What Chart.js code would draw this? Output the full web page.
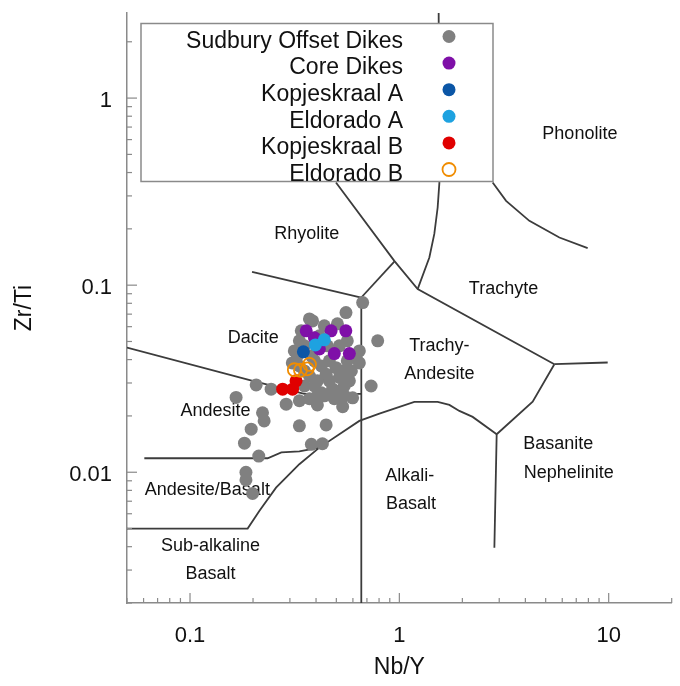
<!DOCTYPE html>
<html>
<head>
<meta charset="utf-8">
<script src="https://cdn.jsdelivr.net/npm/chart.js@4.4.1/dist/chart.umd.min.js"></script>
<style>
  html, body { margin: 0; padding: 0; background: #fff; }
  #wrap { position: relative; width: 680px; height: 686px; }
</style>
</head>
<body>
<div id="wrap"><canvas id="chart"></canvas></div>
<script>
// --- samples: Nb/Y on x, Zr/Ti on y ---
const offsetNbY = [0.668, 0.556, 0.385, 0.788, 0.733, 0.598, 0.536, 0.406, 0.447, 0.333, 0.380, 0.429,
  0.207, 0.244, 0.166, 0.222, 0.226, 0.196, 0.182, 0.213, 0.185, 0.185, 0.199, 0.288, 0.333, 0.489,
  0.372, 0.506, 0.438, 0.333, 0.308, 0.326, 0.621, 0.644, 0.517, 0.447, 0.517, 0.498, 0.479, 0.406,
  0.372, 0.546, 0.590, 0.424, 0.352, 0.393, 0.463, 0.564, 0.453, 0.340, 0.546, 0.372, 0.406, 0.352, 0.415,
  0.352, 0.380, 0.424, 0.546, 0.463, 0.517, 0.438, 0.393, 0.333, 0.564, 0.644, 0.577, 0.315];
const offsetZrTi = [0.0807, 0.0714, 0.0644, 0.0504, 0.0289, 0.0250, 0.0224, 0.0229, 0.0179, 0.0177, 0.0141, 0.0142,
  0.0293, 0.0278, 0.0251, 0.0208, 0.0188, 0.0170, 0.0143, 0.0122, 0.0100, 0.0091, 0.0077, 0.0231, 0.0241, 0.0247,
  0.0660, 0.0621, 0.0606, 0.0504, 0.0384, 0.0419, 0.0410, 0.0384, 0.0474, 0.0334, 0.0321, 0.0362, 0.0279, 0.0308,
  0.0327, 0.0289, 0.0348, 0.0266, 0.0289, 0.0394, 0.0394, 0.0394, 0.0474, 0.0570, 0.0256, 0.0247, 0.0256, 0.0348, 0.0536,
  0.0474, 0.0419, 0.0370, 0.0348, 0.0308, 0.0272, 0.0256, 0.0289, 0.0370, 0.0504, 0.0445, 0.0308, 0.0445];

const coreNbY = [0.359, 0.472, 0.555, 0.415, 0.489, 0.577, 0.393];
const coreZrTi = [0.0570, 0.0570, 0.0570, 0.0456, 0.0431, 0.0431, 0.0523];

const kopjesA_NbY = [0.348];
const kopjesA_ZrTi = [0.0440];

const eldoradoA_NbY = [0.397, 0.438];
const eldoradoA_ZrTi = [0.0479, 0.0510];

const kopjesB_NbY = [0.277, 0.309, 0.321];
const kopjesB_ZrTi = [0.0278, 0.0278, 0.0308];

const eldoradoB_NbY = [0.315, 0.337, 0.363, 0.372];
const eldoradoB_ZrTi = [0.0353, 0.0351, 0.0357, 0.0377];

// --- field boundaries (Nb/Y, Zr/Ti) ---
const trachyteTopX = [1.541, 1.553, 1.524, 1.469, 1.391, 1.223];
const trachyteTopY = [2.85, 0.352, 0.260, 0.188, 0.1405, 0.0952];
const rhyoTrachyX = [0.498, 0.946, 1.223, 5.502];
const rhyoTrachyY = [0.3537, 0.1349, 0.0952, 0.0378];
const phonoRightX = [5.502, 9.89];
const phonoRightY = [0.0378, 0.0386];
const basaniteX = [5.502, 4.334, 2.917, 2.844];
const basaniteY = [0.0378, 0.02385, 0.01596, 0.003953];
const alkaliTopX = [0.05, 0.1885, 0.2143, 0.2576, 0.3328, 0.4147, 0.5168, 0.644, 0.8028, 1.1793, 1.524, 1.734, 1.935, 2.240, 2.917];
const alkaliTopY = [0.005, 0.005, 0.006209, 0.008272, 0.01104, 0.01354, 0.01596, 0.01881, 0.02058, 0.02376, 0.02376, 0.02291, 0.02127, 0.01976, 0.01596];
const andBasX = [0.0605, 0.2348, 0.2731, 0.3328, 0.4147];
const andBasY = [0.01188, 0.01188, 0.01276, 0.01292, 0.01354];
const daciteLowX = [0.05, 0.1991, 0.3517, 0.658];
const daciteLowY = [0.04637, 0.03077, 0.02623, 0.02623];
const rhyoDaciteX = [0.1978, 0.658];
const rhyoDaciteY = [0.1178, 0.0859];
const junctionX = [0.658, 0.946];
const junctionY = [0.0859, 0.1337];
const alkaliLeftX = [0.658, 0.658];
const alkaliLeftY = [0.0859, 0.002];
const phonoLeftX = [2.791, 3.235, 4.179, 5.814, 7.936];
const phonoLeftY = [0.3537, 0.2823, 0.2208, 0.1797, 0.1577];

// field names, anchored at (Nb/Y, Zr/Ti)
const fieldNames = ["Phonolite", "Rhyolite", "Trachyte", "Dacite", "Trachy-", "Andesite", "Andesite",
  "Andesite/Basalt", "Sub-alkaline", "Basalt", "Alkali-", "Basalt", "Basanite", "Nephelinite"];
const fieldNbY = [7.285, 0.3614, 3.146, 0.2006, 1.553, 1.553, 0.1325, 0.121, 0.1254, 0.1254, 1.122, 1.137, 5.737, 6.441];
const fieldZrTi = [0.642, 0.188, 0.0952, 0.0521, 0.0474, 0.0334, 0.02127, 0.00801, 0.004035, 0.002848, 0.00955, 0.006745, 0.01411, 0.00988];

const xLabels = [0.1, 1, 10];
const yLabels = [0.01, 0.1, 1];

const FONT = "'Liberation Sans', Arial, sans-serif";
const axisGray = "#8a8a8a";
const lineColor = "#3c3c3c";

const zip = (xs, ys) => xs.map((x, i) => ({ x: x, y: ys[i] }));

const sample = (label, xs, ys, color, order, hollow) => ({
  label: label,
  data: zip(xs, ys),
  order: order,
  pointRadius: 6.5,
  pointBackgroundColor: hollow ? "rgba(0,0,0,0)" : color,
  pointBorderColor: color,
  pointBorderWidth: hollow ? 1.8 : 0,
  isSample: true,
});

const boundary = (xs, ys) => ({
  data: zip(xs, ys),
  showLine: true,
  pointRadius: 0,
  borderColor: lineColor,
  borderWidth: 1.8,
  order: 20,
});

const datasets = [
  sample("Sudbury Offset Dikes", offsetNbY, offsetZrTi, "#808080", 6),
  sample("Core Dikes", coreNbY, coreZrTi, "#7f10a8", 5),
  sample("Kopjeskraal A", kopjesA_NbY, kopjesA_ZrTi, "#0b56a6", 4),
  sample("Eldorado A", eldoradoA_NbY, eldoradoA_ZrTi, "#1ea2e0", 3),
  sample("Kopjeskraal B", kopjesB_NbY, kopjesB_ZrTi, "#e00000", 2),
  sample("Eldorado B", eldoradoB_NbY, eldoradoB_ZrTi, "#f08c00", 1, true),
  boundary(trachyteTopX, trachyteTopY),
  boundary(rhyoTrachyX, rhyoTrachyY),
  boundary(phonoRightX, phonoRightY),
  boundary(basaniteX, basaniteY),
  boundary(alkaliTopX, alkaliTopY),
  boundary(andBasX, andBasY),
  boundary(daciteLowX, daciteLowY),
  boundary(rhyoDaciteX, rhyoDaciteY),
  boundary(junctionX, junctionY),
  boundary(alkaliLeftX, alkaliLeftY),
  boundary(phonoLeftX, phonoLeftY),
];

const isWhole = (v) => {
  const m = v / Math.pow(10, Math.floor(Math.log10(v) + 1e-9));
  return Math.abs(m - Math.round(m)) < 1e-6 ? Math.round(m) : 0;
};
const inList = (v, list) => list.some((l) => Math.abs(v / l - 1) < 1e-6);

// field names sit under the points
const fieldText = {
  id: "fieldText",
  beforeDatasetsDraw(chart) {
    const { ctx, scales } = chart;
    ctx.save();
    ctx.font = "18px " + FONT;
    ctx.fillStyle = "#111";
    ctx.textAlign = "center";
    ctx.textBaseline = "middle";
    fieldNames.forEach((name, i) => {
      ctx.fillText(name, scales.x.getPixelForValue(fieldNbY[i]), scales.y.getPixelForValue(fieldZrTi[i]));
    });
    ctx.restore();
  },
};

// boxed legend inside the plot, label then marker
const boxLegend = {
  id: "boxLegend",
  afterDatasetsDraw(chart) {
    const { ctx, chartArea } = chart;
    const left = chartArea.left + 14, top = chartArea.top + 10.5;
    const w = 352, h = 158;
    ctx.save();
    ctx.fillStyle = "#fff";
    ctx.fillRect(left, top, w, h);
    ctx.strokeStyle = axisGray;
    ctx.lineWidth = 1.5;
    ctx.strokeRect(left, top, w, h);
    ctx.font = "23px " + FONT;
    ctx.fillStyle = "#111";
    ctx.textAlign = "right";
    ctx.textBaseline = "middle";
    chart.data.datasets.filter((d) => d.isSample).forEach((d, i) => {
      const cy = top + 13 + i * 26.6;
      ctx.fillText(d.label, left + 262, cy + 5);
      ctx.beginPath();
      ctx.arc(left + 308, cy, 6.5, 0, Math.PI * 2);
      ctx.fillStyle = d.pointBackgroundColor;
      ctx.fill();
      if (d.pointBorderWidth) {
        ctx.lineWidth = d.pointBorderWidth;
        ctx.strokeStyle = d.pointBorderColor;
        ctx.stroke();
      }
      ctx.fillStyle = "#111";
    });
    ctx.restore();
  },
};

// tick marks pointing into the plot
const insideTicks = {
  id: "insideTicks",
  afterDraw(chart) {
    const { ctx, scales } = chart;
    ctx.save();
    ctx.strokeStyle = axisGray;
    ctx.lineWidth = 1.2;
    scales.x.ticks.forEach((t) => {
      const m = isWhole(t.value);
      if (!m) return;
      const px = scales.x.getPixelForValue(t.value);
      ctx.beginPath();
      ctx.moveTo(px, scales.x.top);
      ctx.lineTo(px, scales.x.top - (m === 1 ? 10 : 5));
      ctx.stroke();
    });
    scales.y.ticks.forEach((t) => {
      const m = isWhole(t.value);
      if (!m) return;
      const py = scales.y.getPixelForValue(t.value);
      ctx.beginPath();
      ctx.moveTo(scales.y.right, py);
      ctx.lineTo(scales.y.right + (m === 1 ? 10 : 5), py);
      ctx.stroke();
    });
    ctx.restore();
  },
};

new Chart(document.getElementById("chart"), {
  type: "scatter",
  data: { datasets: datasets },
  plugins: [fieldText, boxLegend, insideTicks],
  options: {
    responsive: true,
    maintainAspectRatio: false,
    animation: false,
    events: [],
    layout: { padding: { top: 13, right: 8, left: 0, bottom: 0 } },
    plugins: { legend: { display: false }, tooltip: { enabled: false } },
    scales: {
      x: {
        type: "logarithmic",
        min: 0.05,
        max: 20,
        grid: { drawOnChartArea: false, drawTicks: false },
        border: { color: axisGray, width: 1.5 },
        ticks: {
          autoSkip: false,
          maxRotation: 0,
          padding: 20,
          color: "#111",
          font: { family: FONT, size: 22 },
          callback: (v) => (inList(v, xLabels) ? String(v) : ""),
        },
        title: { display: true, text: "Nb/Y", color: "#111", font: { family: FONT, size: 23 }, padding: { bottom: 5 } },
        afterFit: (scale) => {
          scale.height = 83;
          scale.paddingLeft = 0;
          scale.paddingRight = 0;
        },
      },
      y: {
        type: "logarithmic",
        min: 0.002,
        max: 2.85,
        grid: { drawOnChartArea: false, drawTicks: false },
        border: { color: axisGray, width: 1.5 },
        ticks: {
          autoSkip: false,
          padding: 15,
          labelOffset: 3,
          color: "#111",
          font: { family: FONT, size: 22 },
          callback: (v) => (inList(v, yLabels) ? String(v) : ""),
        },
        title: { display: true, text: "Zr/Ti", color: "#111", font: { family: FONT, size: 23 }, padding: { top: 11 } },
        afterFit: (scale) => {
          scale.width = 127;
          scale.paddingTop = 0;
          scale.paddingBottom = 0;
        },
      },
    },
  },
});
</script>
</body>
</html>
